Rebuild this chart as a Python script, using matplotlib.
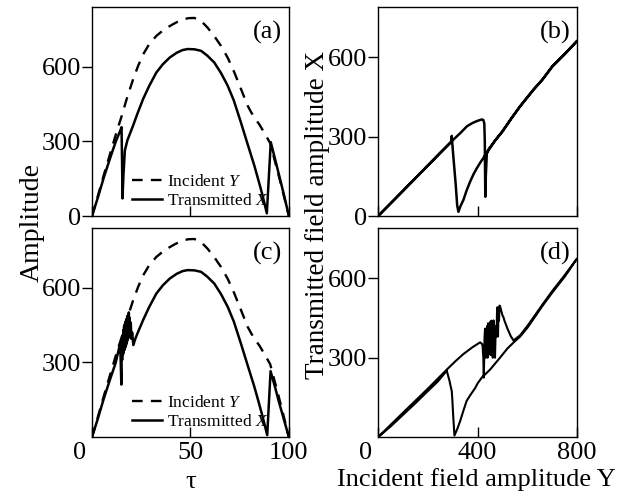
import matplotlib
matplotlib.use("Agg")
import matplotlib.pyplot as plt
import matplotlib.transforms as mtransforms

plt.rcParams['font.family'] = ['Liberation Serif', 'DejaVu Serif']
plt.rcParams['mathtext.fontset'] = 'custom'
plt.rcParams['mathtext.rm'] = 'Liberation Serif'
plt.rcParams['mathtext.it'] = 'Liberation Serif:italic'

# incident field Y(tau), shared by (a) and (c)
tau_inc = [0, 3, 6, 9, 12, 13.3, 15, 17.6, 20.9, 23.5, 26, 29, 32.7, 37, 41.2, 45, 48.8, 52, 55.4,
           58.7, 62, 65.5, 69, 72.3, 75.6, 79, 81, 83, 85, 87.5, 90.5, 93, 95, 97.5, 100]
y_inc = [0, 82, 165, 245, 325, 358, 400, 470, 550, 605, 650, 690, 724, 752, 771, 787, 795, 796, 784,
         757, 724, 684, 635, 577, 512, 444, 415, 390, 368, 335, 293, 218, 158, 80, 0]

# transmitted X(tau), panel (a)
tau_a = [0, 3, 6, 9, 12, 14.3, 15, 15.3, 15.5, 16, 16.7, 18, 20.9, 23, 26, 29, 32.7, 36, 39.5, 43,
         46, 48.6, 52, 55.4, 58.5, 62.1, 65.5, 68.9, 72, 75.6, 79, 82.4, 84.5, 86.6, 88.8,
         90.8, 93, 95, 97.5, 100]
x_a = [0, 75, 155, 228, 298, 342, 357, 200, 71, 170, 264, 305, 364, 410, 471, 522, 577, 610, 637, 656,
       667, 671, 670, 664, 645, 617, 575, 524, 465, 377, 290, 204, 145, 84, 11,
       297, 228, 165, 85, 0]

# transmitted X(tau), panel (c)
tau_c = [0, 3, 6, 9, 12, 14.0, 14.5, 14.9, 15.1, 15.3, 15.5, 15.7, 15.9, 16.1, 16.3, 16.5, 16.7, 16.9,
         17.1, 17.3, 17.5, 17.7, 17.9, 18.1, 18.3, 18.5, 18.7, 18.9, 19.1, 19.4, 19.7, 20.0, 20.4,
         21, 22, 23, 26, 29, 32.7, 36, 39.5, 43, 46, 48.6, 52, 55.4, 58.5, 62.1, 65.5, 68.9, 72,
         75.6, 79, 82.4, 84.5, 86.6, 89, 90.7, 93, 95, 97.5, 100]
x_c = [0, 75, 155, 228, 298, 366, 330, 211, 380, 310, 410, 330, 430, 340, 445, 350, 455, 360,
       465, 370, 475, 380, 485, 390, 490, 400, 501, 410, 480, 400, 460, 395, 420,
       370, 395, 415, 471, 522, 577, 610, 637, 656, 667, 671, 670, 664, 645, 617, 575, 524, 465,
       377, 290, 204, 145, 84, 8, 265, 200, 140, 70, 0]

# panel (b): transmitted X against incident Y
y_b = [0, 100, 200, 249, 296, 330, 357, 380, 400, 417, 423, 427, 429, 430, 431, 433, 437, 443,
       470, 500, 535, 571, 625, 660, 700, 750, 800,
       750, 700, 660, 625, 571, 535, 500, 470, 443, 433, 423, 410, 397, 383, 370, 356, 343, 330,
       323, 318, 312, 303, 297, 296, 294, 249, 200, 100, 0]
x_b = [0, 95, 191, 238, 283, 313, 339, 352, 360, 365, 363, 350, 280, 170, 73, 150, 235, 251,
       285, 320, 368, 415, 478, 515, 565, 612, 662,
       612, 565, 515, 478, 415, 368, 320, 285, 247, 235, 219, 201, 181, 157, 130, 97, 61, 35,
       16, 40, 120, 220, 290, 303, 280, 238, 191, 95, 0]

# panel (d): transmitted X against incident Y, with oscillations
y_d = [0, 100, 200, 276, 310, 343, 380, 410, 418, 420, 423, 425, 428, 430, 432, 434, 436, 438, 440,
       442, 444, 446, 448, 450, 452, 455, 458, 461, 464, 467, 470, 473, 476, 478, 480, 482, 484, 486,
       488, 490, 493, 497, 500, 504, 508, 514, 520, 527, 534, 540, 544, 571, 600, 625, 660, 700,
       750, 800,
       750, 700, 660, 625, 600, 571, 544, 520, 490, 450, 417, 400, 390, 373, 356, 343, 330, 318,
       307, 302, 298, 296, 291, 287, 276, 240, 200, 150, 100, 50, 0]
x_d = [0, 92, 183, 255, 286, 314, 340, 358, 352, 345, 300, 225, 380, 410, 300, 400, 330, 420, 300,
       430, 350, 428, 320, 435, 310, 440, 360, 300, 441, 330, 300, 420, 380, 470, 491, 380, 480, 440,
       497, 495, 485, 470, 460, 453, 440, 425, 410, 395, 380, 372, 365, 385, 420, 453, 500, 552,
       612, 675,
       606, 546, 495, 447, 413, 380, 357, 335, 300, 255, 225, 203, 185, 162, 137, 100, 61, 30,
       6, 80, 150, 175, 195, 213, 251, 210, 174, 128, 84, 40, 0]

fig = plt.figure(figsize=(6.28, 4.99), dpi=100)
ax_a = fig.add_axes([0.1465, 0.567, 0.3135, 0.419])
ax_c = fig.add_axes([0.1465, 0.124, 0.3135, 0.419])
ax_b = fig.add_axes([0.602, 0.567, 0.317, 0.419])
ax_d = fig.add_axes([0.602, 0.124, 0.317, 0.419])

fs = 19
for ax, tx, xc in [(ax_a, tau_a, x_a), (ax_c, tau_c, x_c)]:
    ax.plot(tau_inc, y_inc, color='black', lw=1.7, ls=(0, (4.5, 3.5)), label='Incident $Y$')
    ax.plot(tx, xc, color='black', lw=1.8, label='Transmitted $X$')
    ax.set_xlim(0, 100)
    ax.set_ylim(0, 840)
    ax.set_xticks([0, 50, 100])
    ax.legend(loc='lower center', bbox_to_anchor=(0.55, 0.0), frameon=False, fontsize=12.5,
              handlelength=1.7, handletextpad=0.3, labelspacing=0.15, borderaxespad=0.0)

ax_b.plot(y_b, x_b, color='black', lw=1.8)
ax_d.plot(y_d, x_d, color='black', lw=1.5)
for ax in (ax_b, ax_d):
    ax.set_xlim(0, 800)
    ax.set_ylim(0, 790)
    ax.set_xticks([0, 400, 800])

ax_a.set_yticks([0, 300, 600])
ax_b.set_yticks([0, 300, 600])
ax_c.set_yticks([300, 600])
ax_d.set_yticks([300, 600])

for ax in (ax_a, ax_b, ax_c, ax_d):
    ax.tick_params(axis='x', direction='in', length=7, width=1)
    ax.tick_params(axis='y', direction='out', length=7, width=1, pad=1)
    ax.tick_params(labelsize=fs)
    for s in ax.spines.values():
        s.set_linewidth(1)
ax_a.tick_params(labelbottom=False)
ax_b.tick_params(labelbottom=False)

# shift the "0" on the bottom axes a little to the left, as in the original
shift = mtransforms.ScaledTranslation(-0.12, 0, fig.dpi_scale_trans)
for ax in (ax_c, ax_d):
    lab = ax.get_xticklabels()[0]
    lab.set_transform(lab.get_transform() + shift)

for ax, tag in [(ax_a, '(a)'), (ax_b, '(b)'), (ax_c, '(c)'), (ax_d, '(d)')]:
    ax.text(0.89, 0.88, tag, transform=ax.transAxes, fontsize=fs, ha='center', va='center')

fig.text(0.051, 0.555, 'Amplitude', rotation=90, fontsize=20, ha='center', va='center')
fig.text(0.505, 0.569, 'Transmitted field amplitude X', rotation=90, fontsize=19.5,
         ha='center', va='center')
fig.text(0.303, 0.035, 'τ', fontsize=19, ha='center', va='center')
fig.text(0.758, 0.040, 'Incident field amplitude Y', fontsize=19, ha='center', va='center')

fig.savefig('out.png', dpi=100)
